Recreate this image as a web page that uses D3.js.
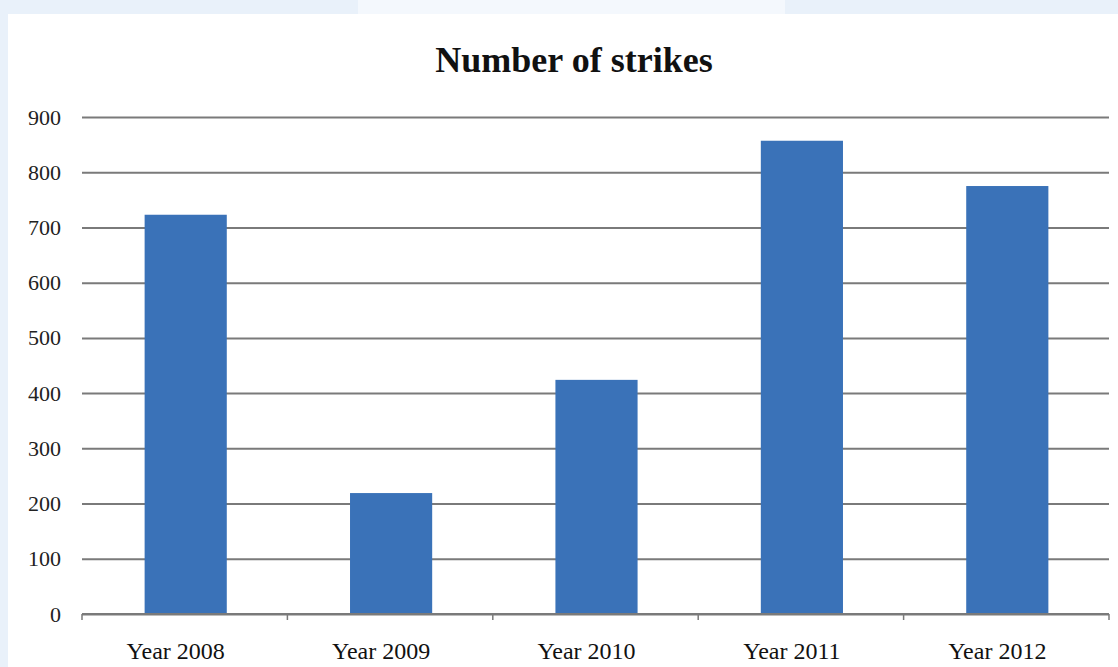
<!DOCTYPE html>
<html><head><meta charset="utf-8">
<script src="https://cdn.jsdelivr.net/npm/d3@7"></script>
<style>html,body{margin:0;padding:0;background:#fff;}svg{display:block;}</style>
</head><body>
<svg id="chart" width="1118" height="667"></svg>
<script>
const categories = ["Year 2008","Year 2009","Year 2010","Year 2011","Year 2012"];
const strikes = [723, 219, 424, 857, 775];
const yTicks = [0,100,200,300,400,500,600,700,800,900];
const title = "Number of strikes";

const svg = d3.select("#chart");
const W = 1118, H = 667;
svg.append("rect").attr("width",W).attr("height",H).attr("fill","#e9f1fa");
svg.append("rect").attr("x",358).attr("y",0).attr("width",427).attr("height",14).attr("fill","#f4f8fd");
svg.append("rect").attr("x",8).attr("y",14).attr("width",W-8).attr("height",H-14).attr("fill","#ffffff");

const m = {left:82, right:1109, top:117, bottom:614};
const x = d3.scaleBand().domain(categories).range([m.left,m.right]).padding(0);
const barW = x.bandwidth() * 0.4;
const y = d3.scaleLinear().domain([0,900]).range([m.bottom,m.top]);

svg.append("text").attr("x",574).attr("y",72).attr("text-anchor","middle")
  .attr("font-family","Liberation Serif, serif").attr("font-weight","bold").attr("font-size",36)
  .attr("fill","#111").text(title);

// gridlines
const yAxis = d3.axisLeft(y).tickValues(yTicks).tickSize(-(m.right-m.left)).tickPadding(21).tickFormat(d3.format("d"));
const gy = svg.append("g").attr("transform",`translate(${m.left},0)`).call(yAxis);
gy.select(".domain").remove();
gy.selectAll(".tick line").attr("stroke","#7a7a7a").attr("stroke-width",2);
gy.selectAll(".tick text").attr("font-family","Liberation Serif, serif").attr("font-size",22).attr("fill","#222");

// bars
svg.append("g").selectAll("rect").data(strikes).join("rect")
  .attr("x",(d,i)=>x(categories[i]) + x.bandwidth()/2 - barW/2 + 1)
  .attr("width",barW)
  .attr("y",d=>y(d)).attr("height",d=>y(0)-y(d))
  .attr("fill","#3a72b8");

// x axis
svg.append("line").attr("x1",m.left).attr("x2",m.right).attr("y1",m.bottom).attr("y2",m.bottom).attr("stroke","#7a7a7a").attr("stroke-width",2);
const bounds = categories.map(c=>x(c)).concat([m.right]);
svg.append("g").selectAll("line").data(bounds).join("line")
  .attr("x1",d=>d).attr("x2",d=>d).attr("y1",m.bottom).attr("y2",m.bottom+6)
  .attr("stroke","#7a7a7a").attr("stroke-width",1.5);
svg.append("g").selectAll("text").data(categories).join("text")
  .attr("x",d=>x(d)+x.bandwidth()/2 - 9).attr("y",659)
  .attr("text-anchor","middle").attr("font-family","Liberation Serif, serif").attr("font-size",24).attr("fill","#111")
  .text(d=>d);
</script>
</body></html>
